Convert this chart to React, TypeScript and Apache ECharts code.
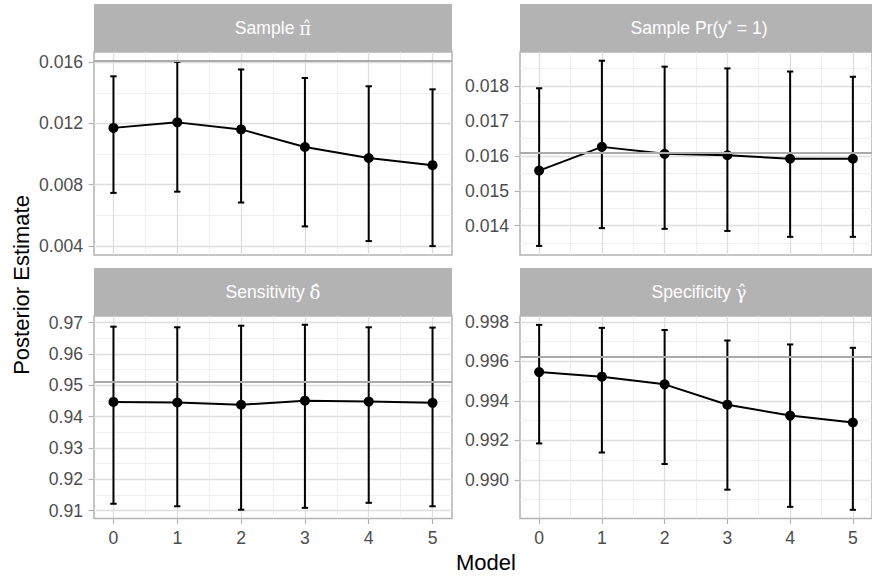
import React, { useEffect, useRef } from 'react';
import * as echarts from 'echarts';

// ---------- data ----------
const models = [0, 1, 2, 3, 4, 5];
const panelTitles = ['Sample π̂', 'Sample Pr(y* = 1)', 'Sensitivity δ̂', 'Specificity γ̂'];

const piEst = [0.01171, 0.01207, 0.01161, 0.01046, 0.00974, 0.00927];
const piLow = [0.00746, 0.00754, 0.00683, 0.00527, 0.00431, 0.00398];
const piHigh = [0.01508, 0.01603, 0.01553, 0.01497, 0.01443, 0.01423];

const prEst = [0.01558, 0.01626, 0.01606, 0.01602, 0.01592, 0.01592];
const prLow = [0.01342, 0.01393, 0.01391, 0.01385, 0.01368, 0.01368];
const prHigh = [0.01794, 0.01873, 0.01856, 0.01851, 0.01842, 0.01827];

const senEst = [0.9447, 0.9445, 0.9438, 0.9451, 0.9448, 0.9444];
const senLow = [0.9122, 0.9114, 0.9103, 0.9109, 0.9125, 0.9114];
const senHigh = [0.9687, 0.9685, 0.969, 0.9693, 0.9685, 0.9684];

const speEst = [0.99546, 0.99523, 0.99484, 0.99381, 0.99326, 0.99291];
const speLow = [0.99185, 0.99139, 0.99081, 0.98951, 0.98864, 0.98849];
const speHigh = [0.99785, 0.9977, 0.99759, 0.99706, 0.99686, 0.99669];

const truthValues = [0.0161, 0.0161, 0.951, 0.99623];

const yMajorTicks = [
  [0.004, 0.008, 0.012, 0.016],
  [0.014, 0.015, 0.016, 0.017, 0.018],
  [0.91, 0.92, 0.93, 0.94, 0.95, 0.96, 0.97],
  [0.99, 0.992, 0.994, 0.996, 0.998],
];
const yMinorTicks = [
  [0.006, 0.01, 0.014],
  [0.0135, 0.0145, 0.0155, 0.0165, 0.0175, 0.0185],
  [0.915, 0.925, 0.935, 0.945, 0.955, 0.965],
  [0.989, 0.991, 0.993, 0.995, 0.997],
];
const yDecimals = [3, 3, 2, 3];
const yLimits = [
  [0.0034, 0.01667],
  [0.01316, 0.01898],
  [0.9075, 0.9721],
  [0.98805, 0.9983],
];
const xMajorTicks = [0, 1, 2, 3, 4, 5];
const xMinorTicks = [0.5, 1.5, 2.5, 3.5, 4.5];
const xLimits = [-0.305, 5.305];

const estimates = [piEst, prEst, senEst, speEst];
const lows = [piLow, prLow, senLow, speLow];
const highs = [piHigh, prHigh, senHigh, speHigh];

// ---------- layout / style ----------
const FONT = '"Liberation Sans", Arial, Helvetica, sans-serif';
const GREEK_FONT = '"DejaVu Serif", "DejaVu Sans", serif';
const panels = [
  { left: 94, top: 52, width: 358, height: 203, bottom: false },
  { left: 520, top: 52, width: 358, height: 203, bottom: false },
  { left: 94, top: 316, width: 358, height: 202.5, bottom: true },
  { left: 520, top: 316, width: 358, height: 202.5, bottom: true },
];
const STRIP_H = 48;
const GRID_MAJOR = '#DEDEDE';
const GRID_MINOR = '#EBEBEB';
const BORDER = '#B3B3B3';

// turn a title into rich text: greek-with-hat and superscript asterisk get their own styles
function richTitle(t: string): string {
  const m = t.match(/^(.*?)([πδγ]\u0302)$/);
  if (m) return `{n|${m[1]}}{g|${m[2]}}`;
  const s = t.match(/^(.*y)\*(.*)$/);
  if (s) return `{n|${s[1]}}{s|*}{n|${s[2]}}`;
  return `{n|${t}}`;
}

export default function App() {
  const ref = useRef<HTMLDivElement>(null);

  useEffect(() => {
    document.body.style.margin = '0';
    if (!ref.current) return;
    const chart = echarts.init(ref.current, undefined, { renderer: 'svg' });

    const grid: any[] = [];
    const xAxis: any[] = [];
    const yAxis: any[] = [];
    const series: any[] = [];
    const graphic: any[] = [];

    panels.forEach((p, i) => {
      grid.push({
        left: p.left,
        top: p.top,
        width: p.width,
        height: p.height,
        show: true,
        borderColor: BORDER,
        borderWidth: 1.5,
      });
      // major x
      xAxis.push({
        type: 'value',
        gridIndex: i,
        min: xLimits[0],
        max: xLimits[1],
        axisLine: { show: false, onZero: false },
        axisTick: {
          show: p.bottom,
          length: 5.5,
          customValues: xMajorTicks,
          lineStyle: { color: BORDER, width: 1.2 },
        },
        axisLabel: {
          show: p.bottom,
          customValues: xMajorTicks,
          color: '#4D4D4D',
          fontSize: 17.6,
          fontFamily: FONT,
          margin: 10,
        },
        splitLine: { show: true, lineStyle: { color: GRID_MAJOR, width: 1.3 } },
      });
      // minor x
      xAxis.push({
        type: 'value',
        gridIndex: i,
        min: xLimits[0],
        max: xLimits[1],
        axisLine: { show: false, onZero: false },
        axisTick: { show: false, customValues: xMinorTicks },
        axisLabel: { show: false, customValues: xMinorTicks },
        splitLine: { show: true, lineStyle: { color: GRID_MINOR, width: 0.8 } },
      });
      // major y
      yAxis.push({
        type: 'value',
        gridIndex: i,
        min: yLimits[i][0],
        max: yLimits[i][1],
        position: 'left',
        axisLine: { show: false, onZero: false },
        axisTick: {
          show: true,
          length: 5.5,
          customValues: yMajorTicks[i],
          lineStyle: { color: BORDER, width: 1.2 },
        },
        axisLabel: {
          show: true,
          customValues: yMajorTicks[i],
          color: '#4D4D4D',
          fontSize: 17.6,
          fontFamily: FONT,
          margin: 11,
          formatter: (v: number) => v.toFixed(yDecimals[i]),
        },
        splitLine: { show: true, lineStyle: { color: GRID_MAJOR, width: 1.3 } },
      });
      // minor y
      yAxis.push({
        type: 'value',
        gridIndex: i,
        min: yLimits[i][0],
        max: yLimits[i][1],
        position: 'left',
        axisLine: { show: false, onZero: false },
        axisTick: { show: false, customValues: yMinorTicks[i] },
        axisLabel: { show: false, customValues: yMinorTicks[i] },
        splitLine: { show: true, lineStyle: { color: GRID_MINOR, width: 0.8 } },
      });

      const est = estimates[i];
      const lo = lows[i];
      const hi = highs[i];

      // truth reference line
      series.push({
        type: 'line',
        xAxisIndex: 2 * i,
        yAxisIndex: 2 * i,
        data: [],
        silent: true,
        markLine: {
          silent: true,
          symbol: 'none',
          precision: 6,
          label: { show: false },
          lineStyle: { color: '#ABABAB', width: 2, type: 'solid' },
          data: [{ yAxis: truthValues[i] }],
        },
        z: 1,
      });

      series.push({
        type: 'custom',
        xAxisIndex: 2 * i,
        yAxisIndex: 2 * i,
        encode: { x: 0, y: [1, 2] },
        data: models.map((m, k) => [m, lo[k], hi[k]]),
        renderItem: (params: any, api: any) => {
          const x = api.value(0);
          const pLo = api.coord([x, api.value(1)]);
          const pHi = api.coord([x, api.value(2)]);
          const half = api.size([0.05, 0])[0];
          const style = { stroke: '#000', lineWidth: 2, fill: 'none' };
          return {
            type: 'group',
            children: [
              { type: 'line', shape: { x1: pLo[0], y1: pLo[1], x2: pHi[0], y2: pHi[1] }, style },
              { type: 'line', shape: { x1: pHi[0] - half, y1: pHi[1], x2: pHi[0] + half, y2: pHi[1] }, style },
              { type: 'line', shape: { x1: pLo[0] - half, y1: pLo[1], x2: pLo[0] + half, y2: pLo[1] }, style },
            ],
          };
        },
        z: 2,
      });

      series.push({
        type: 'line',
        xAxisIndex: 2 * i,
        yAxisIndex: 2 * i,
        data: models.map((m, k) => [m, est[k]]),
        symbol: 'circle',
        symbolSize: 10,
        itemStyle: { color: '#000' },
        lineStyle: { color: '#000', width: 2 },
        z: 3,
      });

      // strip
      graphic.push({
        type: 'rect',
        shape: { x: p.left, y: p.top - STRIP_H, width: p.width, height: STRIP_H },
        style: { fill: '#B3B3B3' },
        silent: true,
      });
      graphic.push({
        type: 'text',
        x: p.left + p.width / 2,
        y: p.top - STRIP_H / 2,
        style: {
          text: richTitle(panelTitles[i]),
          fill: '#FFFFFF',
          fontSize: 17.6,
          fontFamily: FONT,
          align: 'center',
          verticalAlign: 'middle',
          rich: {
            n: { fill: '#FFFFFF', fontSize: 17.6, fontFamily: FONT },
            g: { fill: '#FFFFFF', fontSize: 18, fontFamily: GREEK_FONT },
            s: { fill: '#FFFFFF', fontSize: 12, fontFamily: FONT, verticalAlign: 'top' },
          },
        },
        silent: true,
      });
    });

    graphic.push({
      type: 'text',
      x: 21,
      y: 285,
      rotation: Math.PI / 2,
      style: {
        text: 'Posterior Estimate',
        fill: '#000',
        fontSize: 22,
        fontFamily: FONT,
        align: 'center',
        verticalAlign: 'middle',
      },
      silent: true,
    });
    graphic.push({
      type: 'text',
      x: 486,
      y: 562,
      style: {
        text: 'Model',
        fill: '#000',
        fontSize: 22,
        fontFamily: FONT,
        align: 'center',
        verticalAlign: 'middle',
      },
      silent: true,
    });

    chart.setOption({
      animation: false,
      backgroundColor: '#fff',
      grid,
      xAxis,
      yAxis,
      series,
      graphic,
    });

    return () => chart.dispose();
  }, []);

  return (
    <div
      ref={ref}
      style={{ position: 'fixed', left: 0, top: 0, width: 872, height: 579 }}
    />
  );
}
